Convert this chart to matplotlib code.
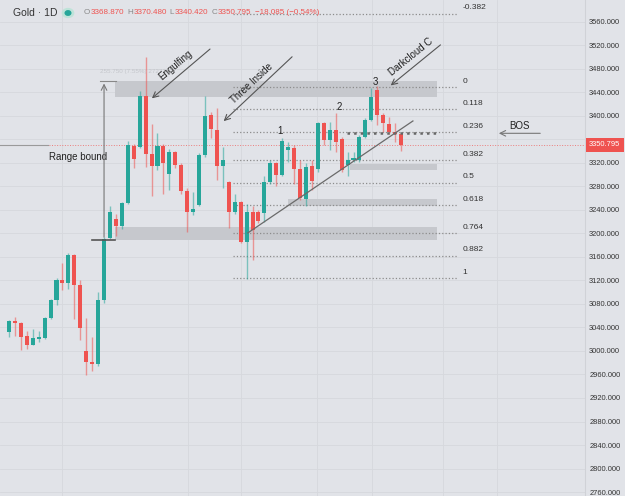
import matplotlib
matplotlib.use('Agg')
import matplotlib.pyplot as plt
import numpy as np

# daily OHLC (oldest first)
opens = [3032, 3051, 3047, 3026, 3011, 3020, 3022, 3057, 3086, 3121,
         3115, 3163, 3113, 3000, 2982, 2978, 3087, 3192, 3224, 3212,
         3252, 3349, 3348, 3434, 3335, 3315, 3349, 3301, 3338, 3317,
         3273, 3237, 3249, 3334, 3402, 3376, 3315, 3288, 3237, 3254,
         3186, 3237, 3236, 3235, 3288, 3320, 3300, 3342, 3346, 3309,
         3259, 3315, 3309, 3388, 3359, 3376, 3360, 3317, 3325, 3325,
         3365, 3394, 3444, 3402, 3386, 3373, 3368.87]
highs = [3053, 3058, 3049, 3034, 3037, 3034, 3058, 3088, 3125, 3149,
         3167, 3165, 3121, 3057, 3024, 3100, 3194, 3246, 3234, 3254,
         3358, 3353, 3443, 3500, 3386, 3371, 3353, 3343, 3340, 3320,
         3277, 3270, 3337, 3434, 3407, 3413, 3348, 3290, 3268, 3256,
         3251, 3246, 3240, 3297, 3325, 3322, 3362, 3356, 3350, 3325,
         3320, 3325, 3390, 3390, 3389, 3405, 3365, 3339, 3339, 3368,
         3397, 3447, 3451, 3405, 3399, 3388, 3370.48]
lows = [3024, 3026, 3002, 3003, 3010, 3015, 3021, 3055, 3078, 3103,
        3105, 3054, 3019, 2959, 2966, 2974, 3082, 3190, 3195, 3208,
        3250, 3311, 3345, 3314, 3263, 3308, 3268, 3274, 3312, 3268,
        3203, 3231, 3246, 3330, 3362, 3291, 3277, 3209, 3234, 3184,
        3122, 3155, 3218, 3220, 3285, 3280, 3298, 3322, 3285, 3257,
        3246, 3274, 3305, 3351, 3342, 3339, 3305, 3297, 3322, 3322,
        3362, 3392, 3385, 3373, 3370, 3356, 3340.42]
closes = [3051, 3047, 3024, 3011, 3022, 3023, 3057, 3086, 3121, 3115,
          3163, 3113, 3039, 2982, 2978, 3087, 3190, 3237, 3212, 3252,
          3351, 3326, 3434, 3335, 3315, 3349, 3320, 3338, 3317, 3273,
          3237, 3241, 3334, 3400, 3377, 3315, 3325, 3237, 3254, 3186,
          3237, 3206, 3222, 3288, 3320, 3300, 3357, 3347, 3309, 3260,
          3313, 3290, 3388, 3359, 3376, 3356, 3308, 3325, 3328, 3365,
          3394, 3433, 3402, 3388, 3373, 3368.88, 3350.795]

price_ticks = list(range(2760, 3561, 40))
fib_levels = [-0.382, 0, 0.118, 0.236, 0.382, 0.5, 0.618, 0.764, 0.882, 1]
fib_top, fib_bottom = 3449.5, 3124.0

# supply / demand boxes: (start idx, end idx, low, high)
zones = [(17.8, 72.0, 3432, 3460),
         (17.8, 72.0, 3189, 3211),
         (47.0, 72.0, 3246, 3258),
         (57.4, 72.0, 3308, 3318)]

BG = '#e1e3e8'
GREEN = '#26a69a'
RED = '#ef5350'
FONT = 'Liberation Sans'

fig = plt.figure(figsize=(6.25, 4.96), dpi=100, facecolor=BG)
ax = fig.add_axes([0, 0, 585 / 625, 1])
ax.set_facecolor(BG)

x = np.arange(len(opens))
o = np.array(opens); h = np.array(highs); l = np.array(lows); c = np.array(closes)
up = c >= o
cols = np.where(up, GREEN, RED)

ax.vlines(x, l, h, colors=cols, linewidth=1.0, alpha=0.55, zorder=3)
ax.bar(x, np.maximum(np.abs(c - o), 1.5), bottom=np.minimum(o, c),
       width=0.68, color=cols, zorder=4)

# zones
for x0, x1, lo, hi in zones:
    ax.fill_between([x0, x1], lo, hi, color='#c6c8cd', zorder=2, lw=0)

# fib retracement
for lv in fib_levels:
    p = fib_top - lv * (fib_top - fib_bottom)
    ax.plot([37.7, 75.6], [p, p], ls=':', color='#8c8c8c', lw=0.9, zorder=2)
    ax.text(76.4, p + 4, f'{lv:g}', fontsize=6, color='#333333',
            family=FONT, va='bottom', ha='left')

# BOS level and trendline
ax.plot([56.9, 72.0], [3370.5, 3370.5], ls=':', color='#666666', lw=1.8, zorder=5)
ax.plot([40.2, 68.0], [3200.9, 3391.5], color='#6a6a6a', lw=0.9, zorder=5)

# current price line
last = closes[-1]
ax.axhline(last, color=RED, ls=':', lw=0.7, alpha=0.7, zorder=1)
ax.plot([-1.5, 6.5], [last, last], color='#9a9a9a', lw=0.8, zorder=1)

# range bound marker
ax.annotate('', xy=(16.0, 3460), xytext=(16.0, 3189),
            arrowprops=dict(arrowstyle='->', color='#777777', lw=0.8), zorder=6)
ax.plot([15.3, 18.0], [3460, 3460], color='#888888', lw=0.8)
ax.plot([14.0, 17.8], [3189, 3189], color='#555555', lw=1.2, zorder=6)
ax.text(11.6, 3330, 'Range bound', fontsize=7, color='#222222',
        family=FONT, ha='center', va='center')
ax.text(15.4, 3475, '255.750 (7.55%) 272719', fontsize=4.5, color='#c4c6cb',
        family=FONT, ha='left', va='center')

# pattern labels with arrows
arrow_kw = dict(arrowstyle='->', color='#555555', lw=0.8)
ax.annotate('', xy=(23.7, 3427), xytext=(34.2, 3517), arrowprops=arrow_kw)
ax.text(28.0, 3486, 'Engulfing', rotation=40, fontsize=7, color='#222222',
        family=FONT, ha='center', va='center')
ax.annotate('', xy=(35.8, 3388), xytext=(48.0, 3504), arrowprops=arrow_kw)
ax.text(40.8, 3456, 'Three Inside', rotation=43, fontsize=7, color='#222222',
        family=FONT, ha='center', va='center')
ax.annotate('', xy=(63.9, 3449), xytext=(73.0, 3524), arrowprops=arrow_kw)
ax.text(67.6, 3500, 'Darkcloud C', rotation=39, fontsize=7, color='#222222',
        family=FONT, ha='center', va='center')
ax.annotate('', xy=(82.0, 3370.5), xytext=(89.9, 3370.5),
            arrowprops=dict(arrowstyle='->', color='#777777', lw=0.8))
ax.text(86.0, 3383, 'BOS', fontsize=7, color='#222222',
        family=FONT, ha='center', va='center')
for lab, xi, yp in [('1', 45.6, 3375), ('2', 55.6, 3415), ('3', 61.6, 3457)]:
    ax.text(xi, yp, lab, fontsize=7, color='#222222',
            family=FONT, ha='center', va='center')

# axes / grid
ax.set_xlim(-1.515, 96.97)
ax.set_ylim(2753.2, 3597.4)
ax.set_xticks([8.9, 30.1, 39.1, 51.9, 61.1, 73.1, 82.2])
ax.set_yticks(price_ticks)
# the 3360 label sits behind the last-price tag
ax.set_yticklabels(['' if abs(t - last) < 15 else f'{t:.3f}' for t in price_ticks])
ax.yaxis.tick_right()
ax.tick_params(axis='y', length=0, pad=3, labelsize=5.4, labelcolor='#333333')
ax.tick_params(axis='x', length=0, labelbottom=False)
for lab in ax.get_yticklabels():
    lab.set_family(FONT)
ax.grid(True, color='#d6d8dd', lw=0.6)
ax.set_axisbelow(True)
for s in ['top', 'bottom', 'left']:
    ax.spines[s].set_visible(False)
ax.spines['right'].set_color('#d0d2d7')
ax.spines['right'].set_linewidth(0.8)

ax.annotate(f'{last:.3f}', xy=(1.0, last), xycoords=ax.get_yaxis_transform(),
            xytext=(3, 0), textcoords='offset points',
            fontsize=5.4, color='white', family=FONT, ha='left', va='center',
            bbox=dict(boxstyle='square,pad=0.45', fc=RED, ec='none'),
            annotation_clip=False, zorder=10)

# header
def fx(px):
    return px / 625
def fy(py):
    return 1 - py / 496

fig.text(fx(13), fy(13), 'Gold · 1D', fontsize=7.5, color='#333333',
         family=FONT, va='center')
fig.patches.append(plt.Circle((fx(68), fy(13)), 0.009, transform=fig.transFigure,
                              color='#bfe3d9', zorder=5))
fig.patches.append(plt.Circle((fx(68), fy(13)), 0.0045, transform=fig.transFigure,
                              color=GREEN, zorder=6))
chg = closes[-1] - closes[-2]
pct = chg / closes[-2] * 100
pieces = [('O', '#888888', 0.5), (f'{opens[-1]:.3f}', RED, 3),
          ('H', '#888888', 0.5), (f'{highs[-1]:.3f}', RED, 3),
          ('L', '#888888', 0.5), (f'{lows[-1]:.3f}', RED, 3),
          ('C', '#888888', 0.5), (f'{closes[-1]:.3f}', RED, 4),
          (f'\u2212{abs(chg):.3f} (\u2212{abs(pct):.2f}%)', RED, 0)]
renderer = fig.canvas.get_renderer()
xpos = 84
for txt, col, gap in pieces:
    t = fig.text(fx(xpos), fy(13), txt, fontsize=5.8, color=col,
                 family=FONT, va='center')
    xpos += t.get_window_extent(renderer).width + gap

fig.savefig('out.png', dpi=100, facecolor=BG)
